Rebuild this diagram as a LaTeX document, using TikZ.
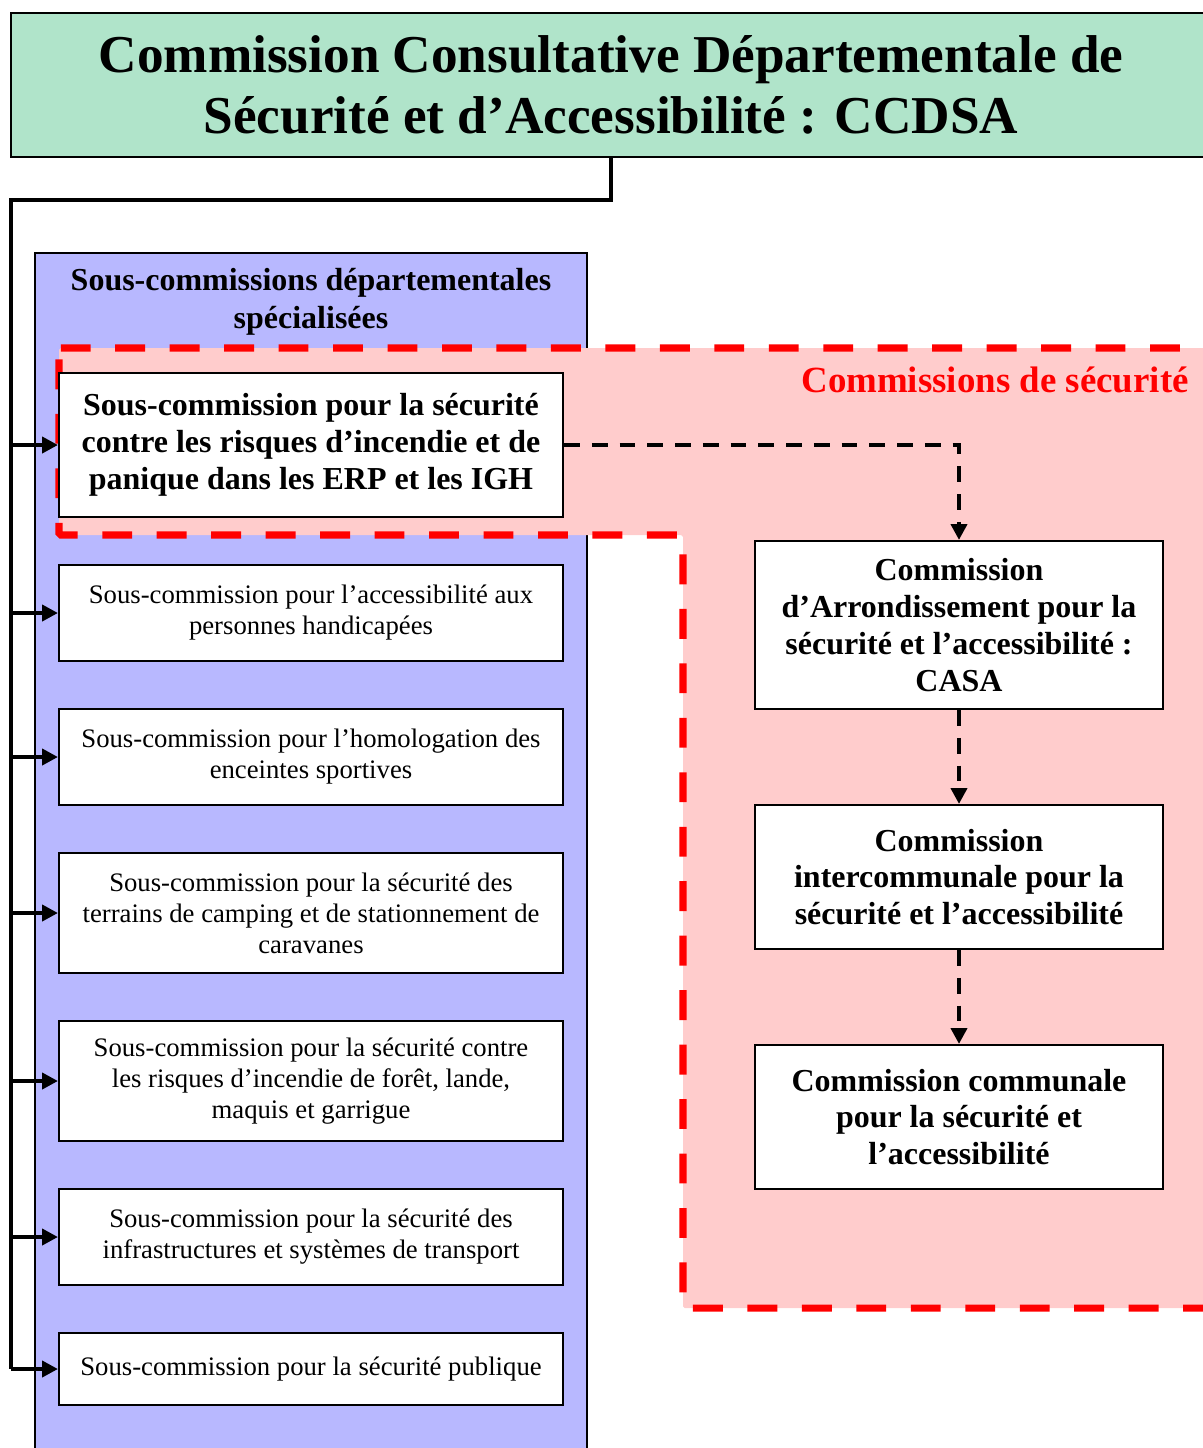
\documentclass[tikz,border=0pt]{standalone}
\usepackage{fontspec}
\setmainfont{Liberation Serif}
\usetikzlibrary{arrows.meta}
\definecolor{titlegreen}{RGB}{176,228,202}
\definecolor{panelblue}{RGB}{184,184,255}
\definecolor{zonepink}{RGB}{255,204,204}
\begin{document}
\begin{tikzpicture}[x=0.02cm, y=-0.02cm,
  box/.style={draw, line width=1.2pt, fill=white, align=center, inner sep=0pt, minimum width=10.08cm, font={\fontsize{15.2}{17.6}\selectfont}},
  boldbox/.style={box, font={\fontsize{18.2}{21}\selectfont\bfseries}},
  commbox/.style={boldbox, minimum width=8.16cm},
  zone/.style={draw=red, fill=zonepink, line width=4pt, dash pattern=on 17pt off 14pt, rounded corners=1pt},
  arrow/.style={-{Triangle[length=9pt,width=9pt]}, line width=2.3pt},
  dasharrow/.style={arrow, dash pattern=on 9pt off 6.8pt}
]
  \clip (0,0) rectangle (1203,1448);

  % CCDSA
  \node[draw, line width=1.2pt, fill=titlegreen, minimum width=24cm, minimum height=2.88cm, align=center,
        font={\fontsize{30.3}{34.6}\selectfont\bfseries}] (ccdsa) at (611,85)
        {Commission Consultative Départementale de\\Sécurité et d’Accessibilité : CCDSA};

  % Sous-commissions
  \draw[line width=1.2pt, fill=panelblue] (35,253) rectangle (587,1470);
  \node[align=center, font={\fontsize{18.2}{21.5}\selectfont\bfseries}] (sdcs) at (311,302)
        {Sous-commissions départementales\\spécialisées};

  % Commissions de securite
  \draw[zone] (59,348) -- (1220,348) -- (1220,1308) -- (683,1308) -- (683,535) -- (59,535) -- cycle;
  \node[anchor=east, text=red, font={\fontsize{21}{24}\selectfont\bfseries}] (zonelbl) at (1195,380)
        {Commissions de sécurité};

  \node[boldbox, minimum height=2.88cm] (sc1) at (311,445)
        {Sous-commission pour la sécurité\\contre les risques d’incendie et de\\panique dans les ERP et les IGH};
  \node[box, minimum height=1.92cm] (sc2) at (311,613)
        {Sous-commission pour l’accessibilité aux\\personnes handicapées};
  \node[box, minimum height=1.92cm] (sc3) at (311,757)
        {Sous-commission pour l’homologation des\\enceintes sportives};
  \node[box, minimum height=2.4cm] (sc4) at (311,913)
        {Sous-commission pour la sécurité des\\terrains de camping et de stationnement de\\caravanes};
  \node[box, minimum height=2.4cm] (sc5) at (311,1081)
        {Sous-commission pour la sécurité contre\\les risques d’incendie de forêt, lande,\\maquis et garrigue};
  \node[box, minimum height=1.92cm] (sc6) at (311,1237)
        {Sous-commission pour la sécurité des\\infrastructures et systèmes de transport};
  \node[box, minimum height=1.44cm] (sc7) at (311,1369)
        {Sous-commission pour la sécurité publique};

  \node[commbox, minimum height=3.36cm] (casa) at (959,625)
        {Commission\\d’Arrondissement pour la\\sécurité et l’accessibilité :\\CASA};
  \node[commbox, minimum height=2.88cm] (inter) at (959,877)
        {Commission\\intercommunale pour la\\sécurité et l’accessibilité};
  \node[commbox, minimum height=2.88cm] (commune) at (959,1117)
        {Commission communale\\pour la sécurité et\\l’accessibilité};

  % Arrows
  \coordinate (trunk) at (11,200);
  \draw[line width=2.3pt] (ccdsa.south) |- (trunk) -- (trunk |- sc7.west);
  \foreach \n in {sc1,sc2,sc3,sc4,sc5,sc6,sc7}
    \draw[arrow] (trunk |- \n.west) -- (\n.west);
  \draw[dasharrow] (sc1.east) -| (casa.north);
  \draw[dasharrow] (casa) -- (inter);
  \draw[dasharrow] (inter) -- (commune);
\end{tikzpicture}
\end{document}
